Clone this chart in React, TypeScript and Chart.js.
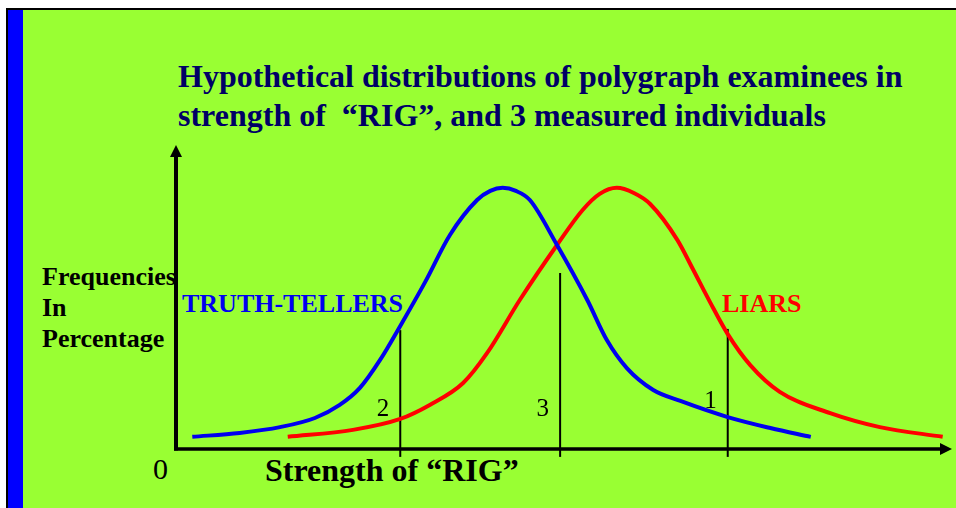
import React, { useEffect, useRef } from "react";
import { Chart, registerables } from "chart.js";

Chart.register(...registerables);

// Truth-tellers distribution (strength of RIG, frequency %)
const truthX = [2.1, 8.2, 13.4, 17.9, 21.1, 23.7, 26.3, 28.9, 32.1, 35.3, 38.8, 40.5, 42.1, 43.8, 45.6, 49.1, 53.0, 55.5, 58.1, 61.5, 65.0, 71.1, 76.6, 81.8];
const truthY = [4.0, 5.3, 7.2, 10.2, 14.5, 20.1, 29.3, 40.5, 54.9, 70.4, 81.9, 84.9, 85.9, 84.9, 81.9, 67.1, 49.0, 35.9, 26.6, 19.4, 15.8, 10.5, 6.9, 4.0];

// Liars distribution
const liarX = [14.4, 22.8, 28.9, 32.7, 37.0, 40.1, 44.3, 49.1, 52.4, 54.6, 56.8, 59.0, 61.1, 64.6, 66.6, 68.8, 71.1, 74.0, 77.8, 84.3, 90.7, 98.8];
const liarY = [4.0, 6.3, 9.9, 14.5, 21.7, 31.6, 49.0, 67.1, 78.6, 83.9, 85.9, 84.2, 80.6, 68.8, 59.2, 48.4, 37.8, 27.6, 18.8, 11.8, 7.2, 4.0];

// Three measured individuals
const measureIds = ["1", "2", "3"];
const measureX = [71.1, 28.9, 49.5];
const measureTop = [39.5, 39.1, 57.9];
const measureBottom = -2.6;
const measureLabelY = [13.5, 10.9, 10.9];

const titleLines = [
  "Hypothetical distributions of polygraph examinees in",
  "strength of  \u201cRIG\u201d, and 3 measured individuals",
];
const yTitleLines = ["Frequencies", "In", "Percentage"];
const xTitle = "Strength of \u201cRIG\u201d";
const originLabel = "0";
const truthLabel = "TRUTH-TELLERS";
const liarLabel = "LIARS";

const SERIF = "'Liberation Serif', 'Times New Roman', serif";

const axesPlugin = {
  id: "axesArrows",
  afterDatasetsDraw(chart: any) {
    const { ctx, chartArea, scales } = chart;
    const x0 = scales.x.getPixelForValue(0);
    const y0 = scales.y.getPixelForValue(0);
    ctx.save();
    ctx.strokeStyle = "#000";
    ctx.fillStyle = "#000";
    ctx.lineWidth = 4;
    // y axis
    ctx.beginPath();
    ctx.moveTo(x0, y0 + 1.5);
    ctx.lineTo(x0, chartArea.top + 10);
    ctx.stroke();
    ctx.beginPath();
    ctx.moveTo(x0, chartArea.top);
    ctx.lineTo(x0 - 6, chartArea.top + 12);
    ctx.lineTo(x0 + 6, chartArea.top + 12);
    ctx.closePath();
    ctx.fill();
    // x axis
    ctx.lineWidth = 3.5;
    ctx.beginPath();
    ctx.moveTo(x0 - 2, y0);
    ctx.lineTo(chartArea.right - 10, y0);
    ctx.stroke();
    ctx.beginPath();
    ctx.moveTo(chartArea.right, y0);
    ctx.lineTo(chartArea.right - 12, y0 - 6);
    ctx.lineTo(chartArea.right - 12, y0 + 6);
    ctx.closePath();
    ctx.fill();
    // individual labels
    ctx.font = "25px " + SERIF;
    ctx.textAlign = "right";
    ctx.textBaseline = "alphabetic";
    measureIds.forEach((id, i) => {
      const px = scales.x.getPixelForValue(measureX[i]);
      const py = scales.y.getPixelForValue(measureLabelY[i]);
      ctx.fillText(id, px - 11, py);
    });
    ctx.restore();
  },
};

export default function App() {
  const canvasRef = useRef<HTMLCanvasElement | null>(null);

  useEffect(() => {
    const canvas = canvasRef.current;
    if (!canvas) return;
    const datasets: any[] = [
      {
        label: "Truth-tellers",
        data: truthX.map((x, i) => ({ x, y: truthY[i] })),
        borderColor: "#0000F0",
        borderWidth: 4,
        pointRadius: 0,
        cubicInterpolationMode: "monotone",
        fill: false,
      },
      {
        label: "Liars",
        data: liarX.map((x, i) => ({ x, y: liarY[i] })),
        borderColor: "#FF0000",
        borderWidth: 4,
        pointRadius: 0,
        cubicInterpolationMode: "monotone",
        fill: false,
      },
    ];
    measureIds.forEach((id, i) => {
      datasets.push({
        label: "Individual " + id,
        data: [
          { x: measureX[i], y: measureBottom },
          { x: measureX[i], y: measureTop[i] },
        ],
        borderColor: "#000",
        borderWidth: 2,
        pointRadius: 0,
        tension: 0,
        clip: false,
        fill: false,
      });
    });
    const chart = new Chart(canvas, {
      type: "line",
      data: { datasets },
      options: {
        responsive: false,
        animation: false,
        layout: { padding: { left: 176, top: 145, right: 4, bottom: 59 } },
        scales: {
          x: { type: "linear", min: 0, max: 100, display: false },
          y: { type: "linear", min: 0, max: 100, display: false },
        },
        plugins: {
          legend: { display: false },
          tooltip: { enabled: false },
          title: { display: false },
        },
      },
      plugins: [axesPlugin],
    } as any);
    return () => chart.destroy();
  }, []);

  const abs = (s: React.CSSProperties): React.CSSProperties => ({
    position: "absolute",
    margin: 0,
    whiteSpace: "pre",
    fontFamily: SERIF,
    ...s,
  });

  return (
    <div
      style={{
        position: "fixed",
        left: 0,
        top: 0,
        width: 956,
        height: 508,
        background: "#fff",
        overflow: "hidden",
      }}
    >
      <div
        style={{
          position: "absolute",
          left: 6,
          top: 8,
          width: 960,
          height: 510,
          borderTop: "2px solid #000",
          borderLeft: "2px solid #000",
          background: "#99FF33",
        }}
      >
        <div style={{ position: "absolute", left: 0, top: 0, width: 15, height: "100%", background: "#0000FF" }} />
      </div>
      <div style={abs({ left: 178, top: 57, fontSize: 32, lineHeight: "39px", fontWeight: "bold", color: "#000066" })}>
        {titleLines.map((l, i) => (
          <div key={i}>{l}</div>
        ))}
      </div>
      <div style={abs({ left: 42, top: 261, fontSize: 26, lineHeight: "31px", fontWeight: "bold", color: "#000" })}>
        {yTitleLines.map((l, i) => (
          <div key={i}>{l}</div>
        ))}
      </div>
      <div style={abs({ left: 182, top: 288, fontSize: 26, lineHeight: "31px", fontWeight: "bold", color: "#0000F0" })}>
        {truthLabel}
      </div>
      <div style={abs({ left: 722, top: 288, fontSize: 26, lineHeight: "31px", fontWeight: "bold", color: "#FF0000" })}>
        {liarLabel}
      </div>
      <div style={abs({ left: 265, top: 452, fontSize: 32, lineHeight: "36px", fontWeight: "bold", color: "#000" })}>
        {xTitle}
      </div>
      <div style={abs({ left: 153, top: 451, fontSize: 30, lineHeight: "36px", color: "#000" })}>
        {originLabel}
      </div>
      <canvas
        ref={canvasRef}
        width={956}
        height={508}
        style={{ position: "absolute", left: 0, top: 0, width: 956, height: 508, pointerEvents: "none" }}
      />
    </div>
  );
}
